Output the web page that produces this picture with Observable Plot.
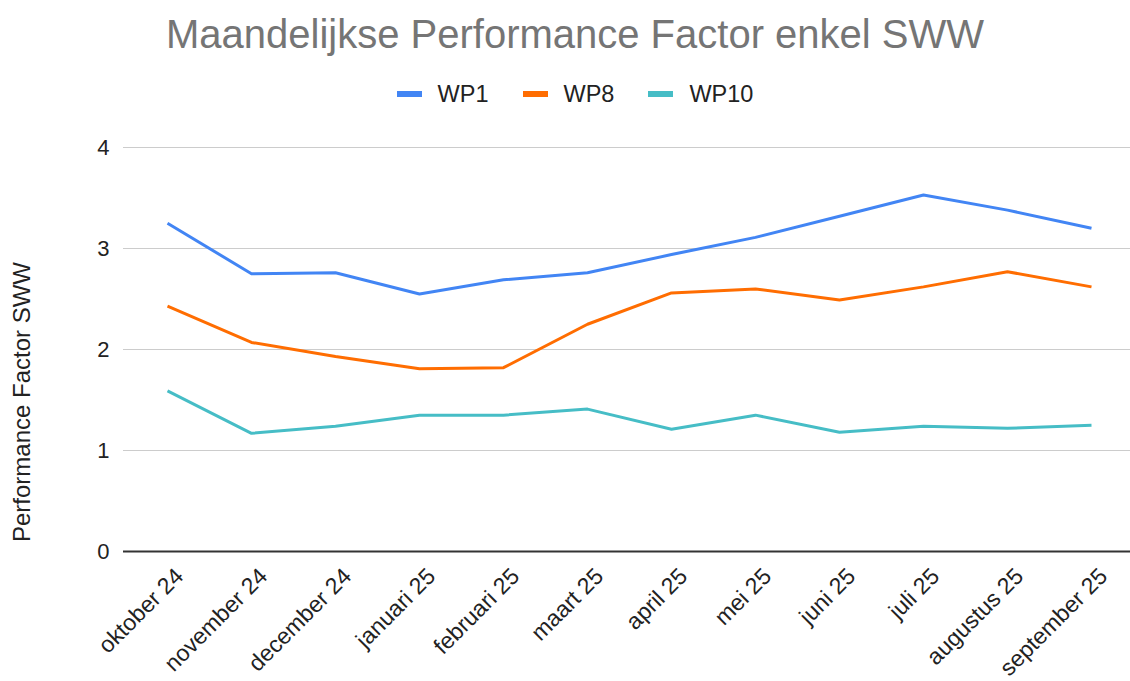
<!DOCTYPE html>
<html>
<head>
<meta charset="utf-8">
<script src="https://cdn.jsdelivr.net/npm/d3@7"></script>
<script src="https://cdn.jsdelivr.net/npm/@observablehq/plot@0.6"></script>
<style>
  html, body { margin: 0; padding: 0; background: #fff; }
  body { width: 1130px; height: 681px; position: relative; overflow: hidden; font-family: "Liberation Sans", Arial, sans-serif; }
  #title { position: absolute; left: 0; top: 14px; width: 1150px; text-align: center; font-size: 40px; line-height: 40px; color: #757575; white-space: nowrap; }
  #legend { position: absolute; left: 0; top: 79px; width: 1150px; height: 30px; display: flex; justify-content: center; align-items: center; font-size: 23.5px; color: #222; }
  .item { display: flex; align-items: center; margin: 0 17px; }
  .sw { width: 25px; height: 6px; margin-right: 16px; }
  #ylabel { position: absolute; z-index: 5; left: 22px; top: 402px; transform: translate(-50%, -50%) rotate(-90deg); font-size: 24px; color: #222; white-space: nowrap; }
  #chart { position: absolute; left: 0; top: 125px; z-index: 1; }
</style>
</head>
<body>
<div id="title">Maandelijkse Performance Factor enkel SWW</div>
<div id="legend"></div>
<div id="chart"></div>
<div id="ylabel">Performance Factor SWW</div>
<script>
const months = ["oktober 24","november 24","december 24","januari 25","februari 25","maart 25","april 25","mei 25","juni 25","juli 25","augustus 25","september 25"];
const seriesNames = ["WP1", "WP8", "WP10"];
const seriesColors = ["#4285F4", "#FF6D01", "#46BDC6"];
const wp1 = [3.25, 2.75, 2.76, 2.55, 2.69, 2.76, 2.94, 3.11, 3.32, 3.53, 3.38, 3.20];
const wp8 = [2.43, 2.07, 1.93, 1.81, 1.82, 2.25, 2.56, 2.60, 2.49, 2.62, 2.77, 2.62];
const wp10 = [1.59, 1.17, 1.24, 1.35, 1.35, 1.41, 1.21, 1.35, 1.18, 1.24, 1.22, 1.25];
const yTicks = [0, 1, 2, 3, 4];

const valuesBySeries = [wp1, wp8, wp10];
const data = [];
seriesNames.forEach((s, i) => months.forEach((m, j) => data.push({series: s, month: m, value: valuesBySeries[i][j]})));

const legend = document.getElementById("legend");
seriesNames.forEach((s, i) => {
  const it = document.createElement("div");
  it.className = "item";
  const sw = document.createElement("div");
  sw.className = "sw";
  sw.style.background = seriesColors[i];
  const t = document.createElement("span");
  t.textContent = s;
  it.appendChild(sw); it.appendChild(t);
  legend.appendChild(it);
});

const chart = Plot.plot({
  width: 1130,
  height: 556,
  marginTop: 22,
  marginBottom: 130,
  marginLeft: 123,
  marginRight: 0,
  style: {fontFamily: "Liberation Sans, Arial, sans-serif", fontSize: "22px", color: "#222", background: "transparent"},
  x: {type: "point", domain: months, range: [165, 1093], padding: 0},
  y: {domain: [0, 4]},
  color: {domain: seriesNames, range: seriesColors},
  marks: [
    Plot.ruleY(yTicks.filter(d => d > 0), {stroke: "#cccccc", strokeWidth: 1.2}),
    Plot.ruleY([0], {stroke: "#333333", strokeWidth: 1.8}),
    Plot.axisY({ticks: yTicks, tickFormat: d3.format("d"), tickSize: 0, tickPadding: 14, fontSize: 22, label: null}),
    Plot.axisX({tickSize: 0, tickRotate: -45, textAnchor: "end", lineAnchor: "middle", tickPadding: 21, dx: 12, fontSize: 23, label: null}),
    Plot.line(data, {x: "month", y: "value", z: "series", stroke: "series", strokeWidth: 3, strokeLinejoin: "round", strokeLinecap: "butt"})
  ]
});
document.getElementById("chart").appendChild(chart);
</script>
</body>
</html>
